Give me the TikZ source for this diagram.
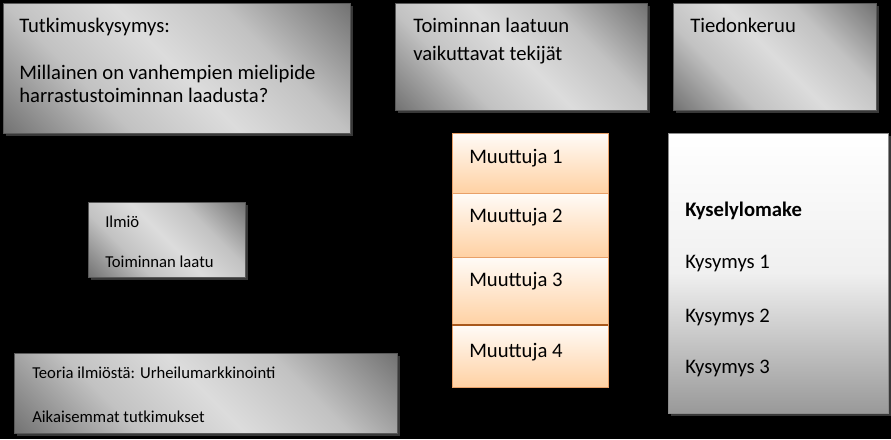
\documentclass[tikz,border=0pt]{standalone}
\usepackage{fontspec}
\setmainfont{Carlito}
\usetikzlibrary{fit,shadows}
\definecolor{metaldark}{HTML}{707070}
\definecolor{metalmid}{HTML}{C2C2C2}
\definecolor{metallight}{HTML}{DCDCDC}
\definecolor{varline}{HTML}{E8A068}
\definecolor{varsep}{HTML}{A8581C}
\pgfdeclarehorizontalshading{metal}{100bp}{color(0bp)=(metaldark); color(14bp)=(metaldark); color(34bp)=(metalmid); color(50bp)=(metallight); color(66bp)=(metalmid); color(86bp)=(metaldark); color(100bp)=(metaldark)}
\begin{document}
\begin{tikzpicture}[x=0.75pt,y=-0.75pt,
	graybox/.style={draw=black!65,shading=metal,shading angle=45,inner sep=0pt,drop shadow={shadow xshift=2pt,shadow yshift=-2pt,fill=black!78!white,opacity=1}},
	varbox/.style={draw=varline,top color=orange!3,bottom color=orange!36,inner sep=0pt},
	formbox/.style={draw=black!45,top color=white,bottom color=black!40,middle color=black!6,inner sep=0pt,drop shadow={shadow xshift=2pt,shadow yshift=-2pt,fill=black!78!white,opacity=1}},
	bigtext/.style={anchor=base west,inner sep=0pt,font=\fontsize{15.5}{18}\selectfont},
	smalltext/.style={anchor=base west,inner sep=0pt,font=\fontsize{12.5}{15}\selectfont}]
	
	\fill[black] (0,0) rectangle (891,439);
	\useasboundingbox (0,0) rectangle (891,439);
	
	% top row
	\node[graybox,fit={(3,3) (350,133)}] (question) {};
	\node[graybox,fit={(395,3) (647,110)}] (factors) {};
	\node[graybox,fit={(673,3) (876,110)}] (collect) {};
	
	% left column
	\node[graybox,fit={(88,202) (245,277)}] (phenom) {};
	\node[graybox,fit={(14,353) (397,433)}] (theory) {};
	
	% variables
	\node[varbox,fit={(452,133) (608,193)}] (var1) {};
	\node[varbox,fit={(452,193) (608,257)}] (var2) {};
	\node[varbox,fit={(452,257) (608,325)}] (var3) {};
	\node[varbox,fit={(452,325) (608,387)}] (var4) {};
	\draw[varsep,line width=1.2pt] (var3.south west) -- (var3.south east);
	
	% questionnaire
	\node[formbox,fit={(668,133) (888,413)}] (form) {};
	
	\node[bigtext] (q1) at (19,32) {Tutkimuskysymys:};
	\node[bigtext] (q2) at (19,79) {Millainen on vanhempien mielipide};
	\node[bigtext] (q3) at (19,102) {harrastustoiminnan laadusta?};
	\node[bigtext] (f1) at (413,32) {Toiminnan laatuun};
	\node[bigtext] (f2) at (413,60) {vaikuttavat tekijät};
	\node[bigtext] (c1) at (690,32) {Tiedonkeruu};
	
	\node[smalltext] (p1) at (105,227) {Ilmiö};
	\node[smalltext] (p2) at (105,267) {Toiminnan laatu};
	\node[smalltext] (t1) at (32,378) {Teoria ilmiöstä: Urheilumarkkinointi};
	\node[smalltext] (t2) at (32,422) {Aikaisemmat tutkimukset};
	
	\node[bigtext] (v1) at (469,163) {Muuttuja 1};
	\node[bigtext] (v2) at (469,222) {Muuttuja 2};
	\node[bigtext] (v3) at (469,286) {Muuttuja 3};
	\node[bigtext] (v4) at (469,357) {Muuttuja 4};
	
	\node[bigtext,font=\fontsize{15.5}{18}\selectfont\bfseries] (k0) at (685,216) {Kyselylomake};
	\node[bigtext] (k1) at (685,268) {Kysymys 1};
	\node[bigtext] (k2) at (685,322) {Kysymys 2};
	\node[bigtext] (k3) at (685,373) {Kysymys 3};
\end{tikzpicture}
\end{document}
